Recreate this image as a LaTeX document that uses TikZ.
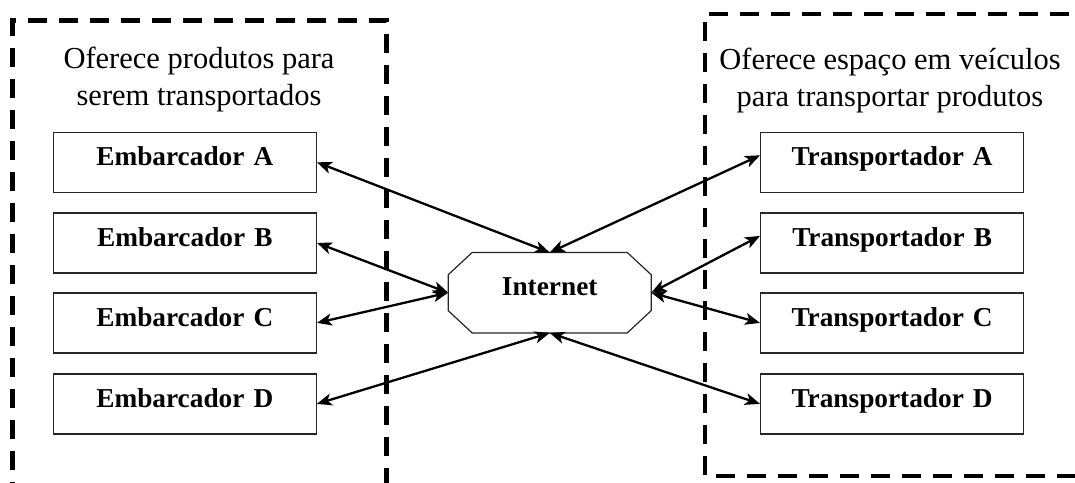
\documentclass[tikz,border=0pt]{standalone}
\usepackage{fontspec}
\setmainfont{Liberation Serif}
\usetikzlibrary{arrows.meta,calc}
\begin{document}
\begin{tikzpicture}[x=1pt,y=-1pt,
 groupbox/.style={draw=black, line width=4.5pt, dash pattern=on 19pt off 12pt},
 actor/.style={draw=black!85, line width=1.2pt, anchor=north west, inner sep=0pt,
   text width=263pt, align=center, text height=33.4pt, text depth=26.6pt,
   font=\fontsize{27.3}{32}\selectfont\bfseries},
 inetbox/.style={inner sep=0pt, minimum width=202.7pt, text height=43pt, text depth=37pt,
   font=\fontsize{27.3}{32}\selectfont\bfseries},
 octa/.style={draw=black!85, line width=1.2pt},
 grouptitle/.style={align=center, font=\fontsize{30.5}{37}\selectfont, inner sep=0pt, anchor=base},
 link/.style={line width=2.3pt, {Stealth[length=15pt,width=12pt,inset=4pt]}-{Stealth[length=15pt,width=12pt,inset=4pt]}},
]
\useasboundingbox (0,0) rectangle (1075,482);
\clip (0,0) rectangle (1075,482);

% group boxes
\draw[groupbox, dash phase=12pt] (12.7,520) -- (12.7,20.7) -- (386.7,20.7) -- (386.7,520);
\draw[groupbox] (1100,14) -- (705,14) -- (705,476) -- (1100,476);

% titles (base anchor = baseline of last line)
\node[grouptitle] (tl) at (199,105) {Oferece produtos para\\serem transportados};
\node[grouptitle] (tr) at (890,106) {Oferece espaço em veículos\\para transportar produtos};

% shippers
\node[actor] (eA) at (52.7,131.7) {Embarcador A};
\node[actor] (eB) at (52.7,212.3) {Embarcador B};
\node[actor] (eC) at (52.7,292.3) {Embarcador C};
\node[actor] (eD) at (52.7,373.3) {Embarcador D};

% carriers
\node[actor] (tA) at (760,131.7) {Transportador A};
\node[actor] (tB) at (760,212.3) {Transportador B};
\node[actor] (tC) at (760,292.3) {Transportador C};
\node[actor] (tD) at (760,373.3) {Transportador D};

% internet
\node[inetbox] (inet) at (549.7,292.7) {Internet};
\draw[octa] ($(inet.north west)+(24,0)$) -- ($(inet.north east)+(-24,0)$)
  -- ($(inet.north east)+(0,22.3)$) -- ($(inet.south east)+(0,-22.3)$)
  -- ($(inet.south east)+(-24,0)$) -- ($(inet.south west)+(24,0)$)
  -- ($(inet.south west)+(0,-22.3)$) -- ($(inet.north west)+(0,22.3)$) -- cycle;

% connectors
\draw[link] (eA.east) -- (inet.north);
\draw[link] (eB.east) -- (inet.west);
\draw[link] (eC.east) -- (inet.west);
\draw[link] (eD.east) -- (inet.south);
\draw[link] ([yshift=7pt]tA.west) -- (inet.north);
\draw[link] ([yshift=7pt]tB.west) -- (inet.east);
\draw[link] (tC.west) -- (inet.east);
\draw[link] (tD.west) -- (inet.south);
\end{tikzpicture}
\end{document}
